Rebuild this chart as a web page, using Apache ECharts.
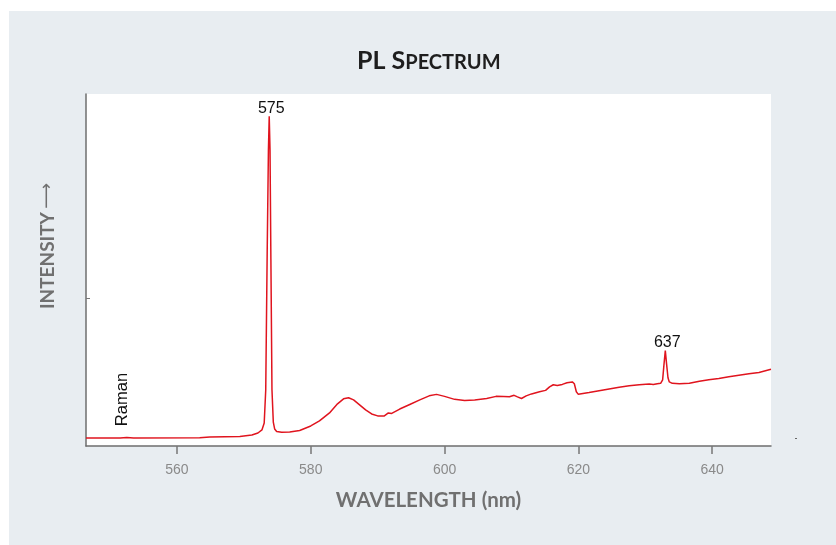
<!DOCTYPE html>
<html><head><meta charset="utf-8">
<script src="https://cdn.jsdelivr.net/npm/echarts@6/dist/echarts.min.js"></script>
<style>html,body{margin:0;padding:0;background:#fff}#c{width:836px;height:545px}</style>
</head><body><div id="c"></div>
<script>
// Spectrum trace (wavelength nm, relative intensity)
const wavelengths = [546.4, 551.5, 552.5, 553.5, 563.4, 564.9, 569.4, 571.2, 572.1, 572.7, 573.04, 573.27, 573.49, 573.67, 573.79, 573.91, 574.04, 574.2, 574.4, 574.6, 574.9, 575.65, 576.85, 578.34, 580.0, 581.3, 582.8, 584.0, 584.9, 585.65, 586.4, 587.3, 588.2, 589.1, 590.0, 591.0, 591.6, 592.1, 593.3, 594.8, 596.3, 597.7, 598.8, 600.0, 601.5, 603.0, 604.5, 606.3, 607.7, 608.8, 609.7, 610.4, 610.9, 611.5, 612.2, 613.0, 614.2, 615.1, 615.7, 616.25, 616.85, 617.6, 618.3, 619.1, 619.4, 619.7, 620.0, 621.6, 623.1, 624.6, 626.1, 627.6, 629.1, 630.6, 631.2, 631.8, 632.3, 632.6, 632.8, 633.0, 633.2, 633.4, 633.6, 634.05, 635.1, 636.6, 638.1, 639.5, 641.0, 642.5, 644.0, 645.5, 647.0, 648.8];
const intensities = [2.28, 2.28, 2.4, 2.3, 2.34, 2.56, 2.7, 3.13, 3.7, 4.56, 6.55, 16, 55.8, 84, 93.7, 84, 53, 16, 6.8, 4.84, 4.13, 3.9, 3.99, 4.42, 5.7, 7.12, 9.4, 11.97, 13.4, 13.7, 13.1, 11.7, 10.26, 9.1, 8.55, 8.55, 9.4, 9.26, 10.5, 11.8, 13.1, 14.25, 14.67, 14.1, 13.25, 12.96, 13.1, 13.5, 14.1, 14.05, 14.0, 14.4, 13.96, 13.5, 14.25, 14.8, 15.4, 15.8, 16.8, 17.4, 17.2, 17.5, 17.95, 18.2, 17.7, 15.4, 14.67, 15.2, 15.7, 16.2, 16.7, 17.1, 17.4, 17.6, 17.5, 17.7, 17.8, 18.8, 23.1, 27.1, 23.1, 19.4, 18.2, 17.8, 17.7, 17.8, 18.4, 18.8, 19.2, 19.7, 20.1, 20.5, 20.9, 21.8];
const xTicks = [560, 580, 600, 620, 640];
const yTicks = [42];
const peakTexts = ['575', '637'];
const peakWavelengths = [573.79, 633.0];
const peakIntensities = [93.7, 27.1];
const ramanText = 'Raman';
const ramanPos = [551.85, 13.2];

const chart = echarts.init(document.getElementById('c'), null, {renderer: 'canvas'});
const seriesData = wavelengths.map((w, i) => [w, intensities[i]]);
const peakMarks = peakTexts.map((t, i) => ({
  name: t, coord: [peakWavelengths[i], peakIntensities[i]],
  label: {position: 'top', distance: 0, offset: [2, 0]}
}));
peakMarks.push({
  name: ramanText, coord: ramanPos,
  label: {position: 'inside', rotate: 90, fontSize: 16.5}
});

chart.setOption({
  animation: false,
  backgroundColor: '#ffffff',
  title: {
    text: '{a|PL S}{b|PECTRUM}',
    left: 357, top: 48,
    padding: 0,
    textStyle: {
      rich: {
        a: {fontFamily: 'Lato', fontWeight: 'bold', fontSize: 25, color: '#1e1e1e', verticalAlign: 'bottom'},
        b: {fontFamily: 'Lato', fontWeight: 'bold', fontSize: 20, color: '#1e1e1e', verticalAlign: 'bottom'}
      }
    }
  },
  graphic: [
    {type: 'rect', z: -10, shape: {x: 9, y: 11, width: 827, height: 534}, style: {fill: '#e8edf1'}},
    {type: 'rect', z: 5, shape: {x: 795, y: 438, width: 2, height: 1}, style: {fill: '#666'}},
    {type: 'text', z: 5, x: 47.5, y: 246, rotation: Math.PI / 2,
      style: {
        text: '{b|INTENSITY} {a|⟶}', align: 'center', verticalAlign: 'middle',
        rich: {
          b: {fontFamily: 'Lato', fontWeight: 'bold', fontSize: 19, fill: '#707070'},
          a: {fontFamily: 'DejaVu Sans', fontSize: 18, fill: '#707070'}
        }
      }
    }
  ],
  grid: {left: 86, right: 65, top: 94, bottom: 99, show: true, backgroundColor: '#ffffff', borderWidth: 0, containLabel: false},
  xAxis: {
    type: 'value', min: 546.4, max: 648.8,
    axisLine: {show: true, onZero: false, lineStyle: {color: '#6e6e6e', width: 1.5}},
    axisTick: {show: true, customValues: xTicks, length: 8, lineStyle: {color: '#777', width: 1.5}},
    axisLabel: {show: true, customValues: xTicks, color: '#8a8a8a', fontSize: 14, margin: 17, fontFamily: 'Liberation Sans'},
    splitLine: {show: false},
    name: 'WAVELENGTH (nm)', nameLocation: 'middle', nameGap: 44,
    nameTextStyle: {fontFamily: 'Lato', fontWeight: 'bold', fontSize: 20.5, color: '#707070'}
  },
  yAxis: {
    type: 'value', min: 0, max: 100,
    axisLine: {show: true, lineStyle: {color: '#6e6e6e', width: 1.5}},
    axisTick: {show: true, inside: true, customValues: yTicks, length: 4, lineStyle: {color: '#777'}},
    axisLabel: {show: false},
    splitLine: {show: false}
  },
  series: [{
    type: 'line', data: seriesData, showSymbol: false, symbol: 'none',
    lineStyle: {color: '#e0141e', width: 1.5},
    markPoint: {
      symbol: 'circle', symbolSize: 0,
      itemStyle: {color: 'rgba(0,0,0,0)'},
      label: {show: true, formatter: '{b}', fontSize: 16, color: '#111', fontFamily: 'Liberation Sans'},
      data: peakMarks
    }
  }]
});
</script></body></html>
